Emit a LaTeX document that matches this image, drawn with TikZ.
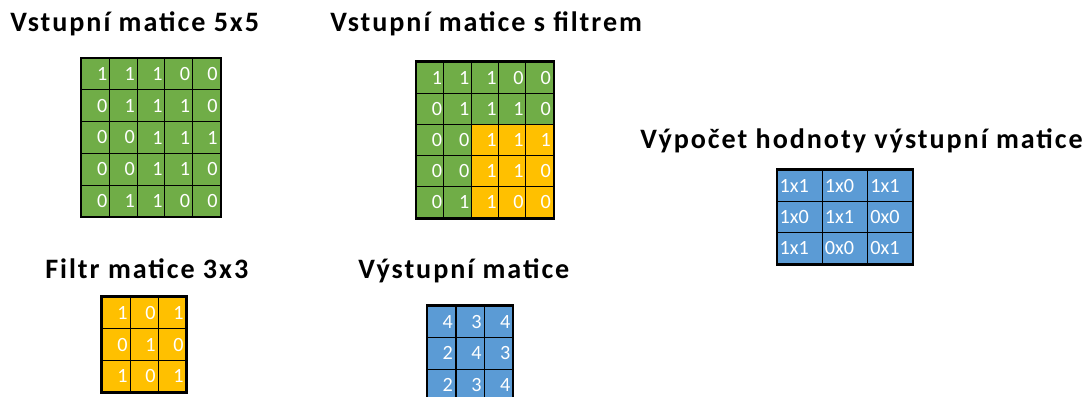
\documentclass[tikz,border=0pt]{standalone}
\usepackage{fontspec}
\setmainfont{Carlito}
\newfontfamily\titlefont[LetterSpace=7]{Carlito}
\usetikzlibrary{positioning}
\definecolor{CellGreen}{RGB}{112,173,71}
\definecolor{CellOrange}{RGB}{255,192,0}
\definecolor{CellBlue}{RGB}{91,155,213}

\tikzset{
  title/.style={font=\titlefont\bfseries\fontsize{16}{18}\selectfont, anchor=base west, inner sep=0pt},
  cell/.style={draw=black, line width=0.55pt, inner ysep=0pt, inner xsep=0.05cm,
    minimum width=0.56cm, minimum height=0.63cm, text width=0.46cm, align=right,
    text=white, font=\fontsize{11.5}{12}\selectfont},
  calccell/.style={cell, minimum width=0.9cm, text width=0.8cm, align=left},
  frame/.style={draw=black, line width=1.3pt},
}

\begin{document}
\begin{tikzpicture}[x=0.02cm,y=-0.02cm]
  \useasboundingbox (0,0) rectangle (1091,396);
  \clip (0,0) rectangle (1091,396);

  % input matrix
  \node[title] (t-in) at (10,31) {Vstupní matice 5x5};
  \foreach \row [count=\r] in {{1,1,1,0,0},{0,1,1,1,0},{0,0,1,1,1},{0,0,1,1,0},{0,1,1,0,0}}
    \foreach \v [count=\c] in \row
      \node[cell, fill=CellGreen] (in-\r-\c) at ({82+27.6*(\c-0.5)},{58+31.8*(\r-0.5)}) {\v};
  \draw[frame] (in-1-1.north west) rectangle (in-5-5.south east);

  % input matrix with filter
  \node[title] (t-inf) at (330,31) {Vstupní matice s filtrem};
  \foreach \row [count=\r] in {{1,1,1,0,0},{0,1,1,1,0},{0,0,1,1,1},{0,0,1,1,0},{0,1,1,0,0}}
    \foreach \v [count=\c] in \row {
      \def\cellcol{CellGreen}
      \ifnum\r>2 \ifnum\c>2 \def\cellcol{CellOrange}\fi\fi
      \node[cell, fill=\cellcol] (inf-\r-\c) at ({417+27.2*(\c-0.5)},{62+31.2*(\r-0.5)}) {\v};
    }
  \draw[frame] (inf-1-1.north west) rectangle (inf-5-5.south east);

  % calculation
  \node[title] (t-calc) at (640,148) {Výpočet hodnoty výstupní matice};
  \foreach \row [count=\r] in {{1x1,1x0,1x1},{1x0,1x1,0x0},{1x1,0x0,0x1}}
    \foreach \v [count=\c] in \row
      \node[calccell, fill=CellBlue] (calc-\r-\c) at ({777+45.3*(\c-0.5)},{170+31.3*(\r-0.5)}) {\v};
  \draw[frame] (calc-1-1.north west) rectangle (calc-3-3.south east);

  % filter
  \node[title] (t-flt) at (45,278) {Filtr matice 3x3};
  \foreach \row [count=\r] in {{1,0,1},{0,1,0},{1,0,1}}
    \foreach \v [count=\c] in \row
      \node[cell, fill=CellOrange] (flt-\r-\c) at ({102+28*(\c-0.5)},{297+31.7*(\r-0.5)}) {\v};
  \draw[frame] (flt-1-1.north west) rectangle (flt-3-3.south east);

  % output matrix
  \node[title] (t-out) at (358,278) {Výstupní matice};
  \foreach \row [count=\r] in {{4,3,4},{2,4,3},{2,3,4}}
    \foreach \v [count=\c] in \row
      \node[cell, fill=CellBlue] (out-\r-\c) at ({427+28.7*(\c-0.5)},{306+31.5*(\r-0.5)}) {\v};
  \draw[frame] (out-1-1.north west) rectangle (out-3-3.south east);
\end{tikzpicture}
\end{document}
